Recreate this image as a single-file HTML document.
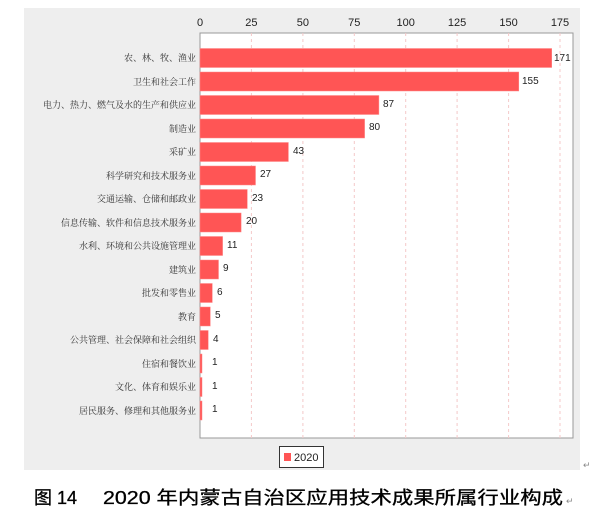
<!DOCTYPE html>
<html><head><meta charset="utf-8"><style>
body{margin:0;background:#fff;width:600px;height:524px;overflow:hidden;font-family:"Liberation Sans","Noto Sans CJK SC",sans-serif}
</style></head><body>
<svg width="600" height="524" xmlns="http://www.w3.org/2000/svg" font-family="Liberation Sans, Noto Sans CJK SC, sans-serif">
<rect x="24" y="8" width="556" height="462" fill="#eeeeee"/>
<rect x="200" y="33" width="373" height="405" fill="#fff" stroke="#999" stroke-width="1"/>
<g stroke="#f4c8c8" stroke-dasharray="3,3">
<line x1="251.4" y1="33" x2="251.4" y2="438"/><line x1="302.9" y1="33" x2="302.9" y2="438"/>
<line x1="354.3" y1="33" x2="354.3" y2="438"/><line x1="405.7" y1="33" x2="405.7" y2="438"/>
<line x1="457.1" y1="33" x2="457.1" y2="438"/><line x1="508.6" y1="33" x2="508.6" y2="438"/>
<line x1="560" y1="33" x2="560" y2="438"/></g>
<g font-size="11" text-anchor="middle" fill="#222">
<text x="200" y="26">0</text><text x="251.4" y="26">25</text><text x="302.9" y="26">50</text><text x="354.3" y="26">75</text><text x="405.7" y="26">100</text><text x="457.1" y="26">125</text><text x="508.6" y="26">150</text><text x="560" y="26">175</text></g>
<g fill="#ff5555" stroke="#f88" stroke-width="0.5">
<rect x="200" y="48.5" width="351.7" height="19"/>
<rect x="200" y="72" width="318.8" height="19"/>
<rect x="200" y="95.5" width="178.9" height="19"/>
<rect x="200" y="119" width="164.6" height="19"/>
<rect x="200" y="142.5" width="88.4" height="19"/>
<rect x="200" y="166" width="55.5" height="19"/>
<rect x="200" y="189.5" width="47.3" height="19"/>
<rect x="200" y="213" width="41.1" height="19"/>
<rect x="200" y="236.5" width="22.6" height="19"/>
<rect x="200" y="260" width="18.5" height="19"/>
<rect x="200" y="283.5" width="12.3" height="19"/>
<rect x="200" y="307" width="10.3" height="19"/>
<rect x="200" y="330.5" width="8.2" height="19"/>
<rect x="200" y="354" width="2" height="19"/>
<rect x="200" y="377.5" width="2" height="19"/>
<rect x="200" y="401" width="2" height="19"/>
</g>
<g font-size="10" fill="#222">
<text x="554" y="61">171</text><text x="522" y="84">155</text><text x="383" y="107">87</text><text x="369" y="130">80</text>
<text x="293" y="154">43</text><text x="260" y="177">27</text><text x="252" y="201">23</text><text x="246" y="224">20</text>
<text x="227" y="248">11</text><text x="223" y="271">9</text><text x="217" y="295">6</text><text x="215" y="318">5</text>
<text x="213" y="342">4</text><text x="212" y="365">1</text><text x="212" y="389">1</text><text x="212" y="412">1</text></g>
<g font-size="9" fill="#333" text-anchor="end" font-family="Noto Serif CJK SC, serif">
<text x="196" y="61">农、林、牧、渔业</text>
<text x="196" y="85">卫生和社会工作</text>
<text x="196" y="108">电力、热力、燃气及水的生产和供应业</text>
<text x="196" y="132">制造业</text>
<text x="196" y="155">采矿业</text>
<text x="196" y="179">科学研究和技术服务业</text>
<text x="196" y="202">交通运输、仓储和邮政业</text>
<text x="196" y="226">信息传输、软件和信息技术服务业</text>
<text x="196" y="249">水利、环境和公共设施管理业</text>
<text x="196" y="273">建筑业</text>
<text x="196" y="296">批发和零售业</text>
<text x="196" y="320">教育</text>
<text x="196" y="343">公共管理、社会保障和社会组织</text>
<text x="196" y="367">住宿和餐饮业</text>
<text x="196" y="390">文化、体育和娱乐业</text>
<text x="196" y="414">居民服务、修理和其他服务业</text></g>
<rect x="279.5" y="446.5" width="44" height="21" fill="#fff" stroke="#333"/>
<rect x="284" y="453" width="7" height="8" fill="#ff5555"/>
<text x="294" y="461" font-size="11" fill="#222">2020</text>
<text x="583" y="468" font-size="9" fill="#888">↵</text>
<text x="34" y="504" font-size="18" fill="#000" stroke="#000" stroke-width="0.3">图 14</text>
<text x="103" y="504" font-size="18" fill="#000" stroke="#000" stroke-width="0.3" textLength="460" lengthAdjust="spacingAndGlyphs">2020 年内蒙古自治区应用技术成果所属行业构成</text>
<text x="566" y="504" font-size="9" fill="#888">↵</text>
</svg>
</body></html>
